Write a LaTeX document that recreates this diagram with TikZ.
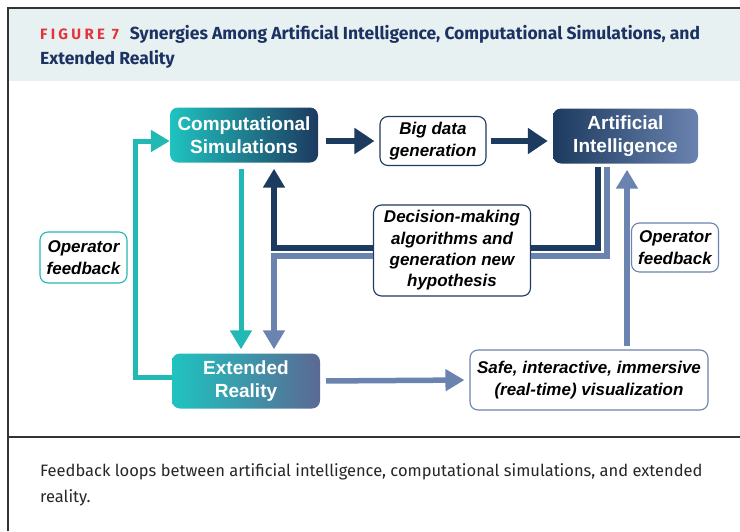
\documentclass[tikz,border=0pt]{standalone}
\usepackage{fontspec}
\setmainfont{Liberation Sans}
\newfontfamily\titlefont{Fira Sans}
\newfontfamily\capfont{Fira Sans}
\usetikzlibrary{arrows.meta}
\definecolor{simteal}{HTML}{1FC3C0}
\definecolor{loopteal}{HTML}{22B8B3}
\definecolor{deepnavy}{HTML}{1D3A5F}
\definecolor{slateblue}{HTML}{6A83AF}
\definecolor{xrslate}{HTML}{5B6994}
\definecolor{headband}{HTML}{E8F1F1}
\definecolor{titlenavy}{HTML}{1B3263}
\definecolor{figred}{HTML}{E5323B}
\definecolor{framegray}{HTML}{333333}
\tikzstyle{block} = [rounded corners=8pt, minimum width=148pt,
    minimum height=55pt, align=center, text=white,
    font=\fontsize{19}{23}\selectfont\bfseries]
\tikzstyle{note} = [draw, fill=white, rounded corners=8pt, align=center,
    line width=1.1pt, inner sep=4pt,
    font=\fontsize{17}{21.3}\selectfont\bfseries\itshape]
\tikzstyle{navyline} = [draw=deepnavy, line width=6.5pt]
\tikzstyle{loopline} = [draw=deepnavy, line width=5.5pt]
\tikzstyle{slateline} = [draw=slateblue, line width=5.5pt]
\tikzstyle{tealline} = [draw=loopteal, line width=5pt]
\tikzstyle{bighead} = [-{Triangle[length=20pt,width=25pt]}]
\tikzstyle{smallhead} = [-{Triangle[length=19pt,width=21pt]}]

\begin{document}
\begin{tikzpicture}[x=1pt, y=-1pt]
    \useasboundingbox (0,0) rectangle (740,531);

    % Header band and frame
    \fill [headband] (8,8) rectangle (740,81);
    \draw [framegray, line width=1.6pt] (8,531) -- (8,8) -- (740,8);
    \draw [framegray, line width=1.3pt] (8,437) -- (740,437);

    % Title (base sits on the last line)
    \node [anchor=base west, inner sep=0pt, align=left, text=titlenavy,
        font=\titlefont\fontsize{17.5}{25}\selectfont\bfseries] (title) at (40,64)
        {{\color{figred}\fontsize{15}{25}\selectfont\addfontfeatures{LetterSpace=22}FIGURE 7}\hspace{11pt}Synergies
        Among Artificial Intelligence, Computational Simulations, and\\
        Extended Reality};

    % Computational simulations block
    \node [block, left color=simteal, right color=deepnavy] (cs) at (244,135)
        {Computational\\Simulations};

    % Big data
    \node [note, draw=deepnavy, minimum width=106pt, minimum height=49pt]
        (bd) at (433,141) {Big data\\generation};

    % Artificial intelligence block
    \node [block, left color=deepnavy, right color=slateblue, minimum width=145pt]
        (ai) at (625.5,136) {Artificial\\Intelligence};

    % Decision making
    \node [note, draw=deepnavy, minimum width=157pt, minimum height=91pt]
        (dec) at (452,250.5) {Decision-making\\algorithms and\\generation new\\hypothesis};

    % Operator feedback, both sides
    \node [note, draw=loopteal, minimum width=87pt, minimum height=51pt]
        (opl) at (83.5,257.5) {Operator\\feedback};
    \node [note, draw=slateblue, minimum width=87pt, minimum height=49pt]
        (opr) at (675,247.5) {Operator\\feedback};

    % Extended reality block
    \node [block, left color=simteal, right color=xrslate] (xr) at (246,381)
        {Extended\\Reality};

    % Visualization
    \node [note, draw=slateblue, minimum width=238pt, minimum height=60pt]
        (safe) at (589,380) {Safe, interactive, immersive\\(real-time) visualization};

    % Upper row
    \draw [navyline, bighead, shorten <=8pt, shorten >=5pt] (cs.east |- bd.west) -- (bd.west);
    \draw [navyline, bighead, shorten <=4pt, shorten >=5pt] (bd.east) -- (ai.west |- bd.east);

    % Teal loop
    \coordinate (tealturn) at (135,141);
    \draw [tealline, smallhead] ([yshift=4pt]xr.west) -| (tealturn) -- (cs.west |- tealturn);
    \draw [tealline, smallhead] ([xshift=-3pt,yshift=-6pt]cs.south) -- ([xshift=-5pt,yshift=4pt]xr.north);

    % Loops through the decision block
    \draw [loopline] ([xshift=-27.5pt,yshift=-3pt]ai.south) |- ([yshift=2.5pt]dec.east);
    \draw [loopline, smallhead] ([yshift=2.5pt]dec.west) -| ([xshift=30pt,yshift=-6pt]cs.south);
    \draw [slateline] ([xshift=-18.5pt,yshift=-3pt]ai.south) |- ([yshift=-5.5pt]dec.east);
    \draw [slateline, smallhead] ([yshift=-5.5pt]dec.west) -| ([xshift=28pt,yshift=4pt]xr.north);

    % Lower row
    \draw [slateline, smallhead, shorten <=6pt, shorten >=5pt] (xr.east) -- (safe.west);
    \draw [slateline, smallhead] ([xshift=38pt,yshift=3pt]safe.north) -- ([xshift=1.5pt,yshift=-6pt]ai.south);

    % Caption
    \node [anchor=base west, inner sep=0pt, align=left, text=black!85,
        font=\capfont\fontsize{16.5}{26}\selectfont] (caption) at (40,502)
        {Feedback loops between artificial intelligence, computational simulations, and extended\\
        reality.};
\end{tikzpicture}
\end{document}
